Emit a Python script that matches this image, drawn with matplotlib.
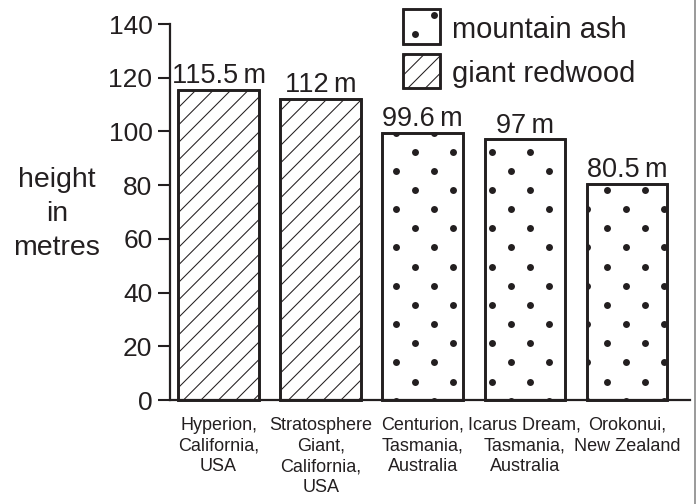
import numpy as np
import matplotlib.pyplot as plt
from matplotlib.patches import Rectangle
from matplotlib.lines import Line2D
from matplotlib.collections import LineCollection

# ── Data ──────────────────────────────────────────────────────────────────────
trees = [
    "Hyperion,\nCalifornia,\nUSA",
    "Stratosphere\nGiant,\nCalifornia,\nUSA",
    "Centurion,\nTasmania,\nAustralia",
    "Icarus Dream,\nTasmania,\nAustralia",
    "Orokonui,\nNew Zealand",
]
heights = [115.5, 112, 99.6, 97, 80.5]
species = ["giant redwood", "giant redwood", "mountain ash", "mountain ash", "mountain ash"]
yticks = [0, 20, 40, 60, 80, 100, 120, 140]

# ── Style ─────────────────────────────────────────────────────────────────────
INK = "#231f20"
W, H = 698, 504
plt.rcParams["font.family"] = ["Liberation Sans", "DejaVu Sans"]

fig = plt.figure(figsize=(W / 100, H / 100), dpi=100)
ax = fig.add_axes([170 / W, 1 - 400 / H, (690 - 170) / W, 376 / H])


def px(x, y):
    """pixel (from top-left) -> figure fraction"""
    return x / W, 1 - y / H


# ── Fill textures, built in pixel space and clipped to each shape ─────────────
def add_dots(parent, clip, dy=0.0):
    step = 38.3
    gx, gy = [], []
    for r in range(-8, 16):
        yy = 151.7 + dy + r * step / 2
        off = (step / 2) if r % 2 else 0.0
        for c in range(-12, 12):
            gx.append(376.7 + off + c * step)
            gy.append(yy)
    ln = Line2D(np.array(gx) / W, 1 - np.array(gy) / H, linestyle="none",
                marker="o", markersize=5, color=INK, markeredgewidth=0,
                transform=fig.transFigure)
    ln.set_clip_path(clip.get_path(), clip.get_transform())
    parent.add_artist(ln)


def add_hatch(parent, clip, c0=286.0):
    step = 17.5
    segs = []
    for c in np.arange(c0 - 60 * step, c0 + 60 * step, step):
        p0 = px(0, c)
        p1 = px(W, c - W)
        segs.append([p0, p1])
    lc = LineCollection(segs, colors=INK, linewidths=0.75,
                        transform=fig.transFigure)
    lc.set_clip_path(clip.get_path(), clip.get_transform())
    parent.add_artist(lc)


x = np.arange(len(trees))
for i, (h, sp) in enumerate(zip(heights, species)):
    bar = ax.bar(i, h, width=0.79, facecolor="white", edgecolor=INK,
                 linewidth=1.9)[0]
    bar.set_clip_on(False)
    if sp == "mountain ash":
        add_dots(ax, bar)
    else:
        add_hatch(ax, bar)
    ax.text(i, h + 2.5, f"{h:g}\u2009m", ha="center", va="baseline",
            fontsize=19.5, color=INK)

# redraw outlines on top of the textures
for i, h in enumerate(heights):
    ax.bar(i, h, width=0.79, facecolor="none", edgecolor=INK,
           linewidth=1.9, zorder=3)[0].set_clip_on(False)

ax.set_xlim(-0.475, 4.617)
ax.set_ylim(0, 140)
ax.set_yticks(yticks)
ax.set_xticks(x, trees, fontsize=13, color=INK, linespacing=1.3)
ax.tick_params(axis="x", length=0, pad=12)
ax.tick_params(axis="y", length=8.6, width=1.5, pad=4, labelsize=19,
               colors=INK)
for s in ["top", "right"]:
    ax.spines[s].set_visible(False)
for s in ["left", "bottom"]:
    ax.spines[s].set_linewidth(1.6)
    ax.spines[s].set_color(INK)
    ax.spines[s].set_zorder(4)

fig.text(57 / W, 1 - 214 / H, "height\nin\nmetres", ha="center", va="center",
         fontsize=20.5, color=INK, linespacing=1.4)

# ── Legend (hand built) ───────────────────────────────────────────────────────
for y_top, label, sp in [(9.3, "mountain ash", "mountain ash"),
                         (53.5, "giant redwood", "giant redwood")]:
    x0, y0 = px(403, y_top + 34.5)
    box = Rectangle((x0, y0), 37 / W, 34.5 / H, transform=fig.transFigure,
                    facecolor="white", edgecolor=INK, linewidth=1.8)
    fig.add_artist(box)
    if sp == "mountain ash":
        add_dots(fig, box, dy=-3.0)
    else:
        add_hatch(fig, box)
    fig.add_artist(Rectangle((x0, y0), 37 / W, 34.5 / H,
                             transform=fig.transFigure, facecolor="none",
                             edgecolor=INK, linewidth=1.8))
    tx, ty = px(452, y_top + 29)
    fig.text(tx, ty, label, ha="left", va="baseline", fontsize=21, color=INK)

fig.add_artist(Line2D([695 / W, 695 / W], [0, 1], color="#9a9a9a",
                      linewidth=1.4, transform=fig.transFigure))

fig.savefig("out.png", dpi=100)
